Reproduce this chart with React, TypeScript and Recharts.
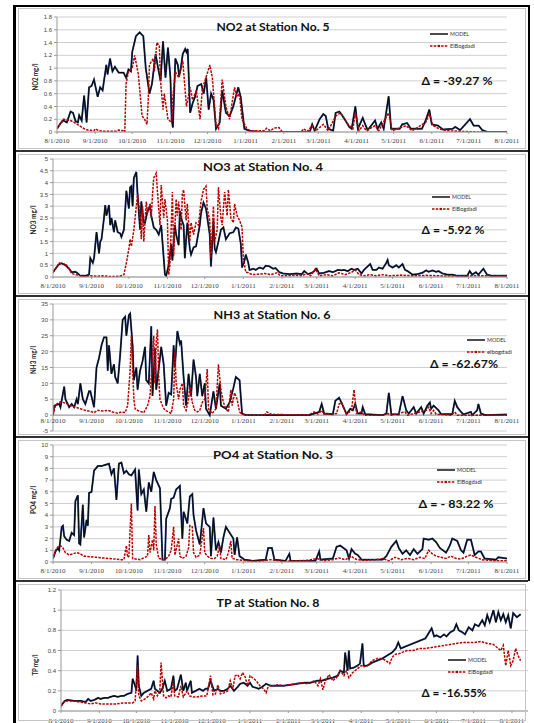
import React from 'react';
import { LineChart, Line, XAxis, YAxis, CartesianGrid, ReferenceLine } from 'recharts';

type Pt = [number, number];

// days counted from 8/1/2010
const monthTicks = [0, 31, 61, 92, 122, 153, 184, 212, 243, 273, 304, 334, 365];
const monthLabels = ['8/1/2010', '9/1/2010', '10/1/2010', '11/1/2010', '12/1/2010', '1/1/2011', '2/1/2011', '3/1/2011', '4/1/2011', '5/1/2011', '6/1/2011', '7/1/2011', '8/1/2011'];

const no2Model: Pt[] = [[0,0.05],[3,0.14],[5,0.18],[8,0.15],[11,0.32],[13,0.3],[15,0.17],[17,0.15],[18,0.26],[20,0.18],[22,0.57],[24,0.15],[26,0.7],[28,0.72],[30,0.82],[33,0.55],[35,0.7],[37,0.65],[40,1.05],[41,0.9],[43,1.15],[45,0.95],[47,1.02],[50,0.93],[54,0.93],[56,0.85],[58,0.98],[60,0.95],[61,1.25],[64,1.5],[67,1.56],[70,1.5],[72,1.0],[75,0.6],[77,0.75],[80,1.22],[82,1.0],[84,0.8],[86,1.42],[88,0.85],[90,1.32],[92,0.85],[93,0.2],[94,0.07],[96,1.15],[98,1.05],[99,0.88],[100,0.95],[102,1.22],[104,1.3],[105,1.25],[106,1.3],[108,0.3],[110,0.45],[112,0.55],[114,0.72],[117,0.75],[119,0.6],[121,0.85],[123,0.35],[125,0.6],[127,0.5],[129,0.05],[132,0.15],[134,0.65],[137,0.3],[140,0.25],[143,0.4],[147,0.7],[149,0.55],[152,0.05],[156,0.02],[164,0],[205,0],[207,0.12],[209,0.02],[213,0.2],[216,0.28],[218,0.25],[220,0.05],[224,0.02],[226,0.3],[229,0.32],[231,0.27],[234,0.18],[237,0.08],[239,0.05],[242,0.4],[244,0.05],[248,0.22],[250,0.12],[252,0.03],[258,0.18],[260,0.05],[263,0.15],[265,0.05],[269,0.56],[271,0.05],[278,0.05],[280,0.12],[284,0.14],[287,0.05],[296,0.05],[299,0.18],[302,0.35],[304,0.12],[309,0.1],[313,0.04],[321,0.05],[323,0.08],[327,0.03],[335,0.2],[338,0.1],[342,0.1],[345,0.03],[349,0],[365,0]];
const no2Obs: Pt[] = [[0,0.05],[5,0.2],[11,0.18],[14,0.15],[18,0.1],[22,0.05],[25,0.03],[30,0.02],[31,0.05],[34,0.02],[38,0.01],[48,0.01],[50,0.03],[54,0.02],[55,0],[56,0.75],[58,0.95],[61,1.0],[63,1.2],[66,0.9],[69,0.25],[71,0.2],[73,0.12],[74,0.5],[75,1.05],[78,1.15],[79,0.95],[81,1.4],[83,1.35],[84,0.8],[86,0.35],[87,0.6],[90,0.2],[93,0.15],[94,0.55],[96,0.95],[97,0.9],[99,0.85],[102,1.12],[105,0.4],[108,0.7],[110,0.5],[113,0.65],[116,0.2],[118,0.7],[120,0.8],[124,1.05],[126,0.85],[129,0.1],[131,0.05],[132,0.25],[134,0.82],[137,0.4],[140,0.2],[144,0.7],[146,0.55],[148,0.6],[150,0.2],[154,0.05],[157,0.02],[168,0.02],[170,0.06],[173,0.02],[176,0.06],[180,0.07],[183,0],[198,0],[200,0.05],[203,0.01],[207,0.1],[210,0.02],[216,0.12],[220,0.02],[226,0.25],[230,0.3],[233,0.2],[237,0.1],[240,0.05],[242,0.3],[245,0.02],[248,0.1],[251,0.02],[258,0.1],[261,0.02],[269,0.3],[272,0.02],[283,0.1],[288,0.02],[299,0.15],[302,0.28],[305,0.1],[310,0.05],[316,0.02],[340,0],[365,0]];

const no3Model: Pt[] = [[0,0.2],[2,0.35],[5,0.55],[7,0.58],[10,0.5],[13,0.35],[15,0.2],[18,0.22],[20,0.15],[22,0.05],[26,0.05],[29,0.1],[30,0.8],[32,0.6],[33,0.8],[35,1.9],[37,1.0],[38,1.5],[39,1.6],[41,2.5],[42,3.05],[43,2.6],[45,3.05],[46,2.2],[47,2.5],[49,1.9],[50,2.4],[52,1.9],[54,1.85],[55,1.7],[57,2.0],[58,2.8],[59,3.65],[61,2.9],[62,3.8],[63,3.85],[64,3.0],[65,4.2],[67,4.45],[68,3.5],[70,2.0],[71,3.2],[73,2.3],[74,2.3],[76,2.8],[78,3.0],[79,2.6],[81,2.1],[83,2.0],[85,1.8],[87,2.2],[89,0.8],[90,0.1],[91,0.05],[93,0.5],[95,1.4],[96,0.7],[98,2.2],[99,1.8],[101,1.35],[102,2.8],[103,2.5],[105,2.2],[106,0.8],[108,2.3],[110,1.2],[111,0.95],[113,1.25],[115,1.3],[118,2.2],[119,2.7],[121,3.15],[123,2.9],[126,1.8],[127,0.45],[129,2.4],[130,1.2],[131,1.05],[133,1.5],[135,2.0],[137,2.1],[139,1.6],[142,1.85],[145,1.9],[147,2.1],[149,2.05],[151,1.4],[152,0.4],[154,0.7],[155,0.95],[157,0.6],[158,0.3],[161,0.35],[163,0.3],[166,0.4],[169,0.35],[171,0.48],[174,0.45],[177,0.35],[179,0.38],[182,0.2],[185,0.15],[190,0.12],[196,0.15],[200,0.12],[202,0.25],[205,0.12],[209,0.2],[212,0.35],[214,0.15],[218,0.18],[222,0.25],[225,0.2],[229,0.3],[232,0.28],[234,0.3],[237,0.25],[240,0.35],[242,0.3],[245,0.35],[248,0.15],[250,0.3],[253,0.45],[255,0.55],[257,0.3],[260,0.3],[262,0.4],[265,0.35],[268,0.6],[269,0.72],[270,0.5],[273,0.4],[276,0.5],[278,0.4],[281,0.55],[283,0.3],[285,0.25],[289,0.1],[293,0.12],[297,0.18],[300,0.28],[302,0.22],[305,0.28],[308,0.22],[310,0.25],[313,0.15],[317,0.1],[321,0.1],[325,0.05],[329,0.06],[333,0.05],[335,0.25],[337,0.1],[340,0.2],[342,0.1],[346,0.35],[349,0.1],[353,0.05],[365,0.05]];
const no3Obs: Pt[] = [[0,0.2],[2,0.35],[5,0.6],[7,0.55],[10,0.55],[13,0.35],[15,0.15],[18,0.1],[20,0.08],[22,0.05],[25,0.02],[30,0.05],[35,0.03],[40,0.05],[45,0.02],[50,0.02],[55,0.05],[57,0.1],[59,0.6],[61,1.2],[62,1.6],[63,1.3],[65,2.0],[67,3.0],[68,3.5],[70,2.6],[71,1.6],[72,3.0],[73,1.5],[75,3.2],[76,2.7],[78,3.1],[79,2.5],[80,3.5],[81,4.2],[83,4.4],[84,3.6],[86,2.2],[87,3.9],[89,2.5],[90,3.3],[92,2.4],[93,0.1],[94,0.5],[96,3.6],[97,0.9],[99,3.3],[100,2.6],[101,3.2],[103,2.0],[104,3.5],[105,3.7],[107,2.4],[108,3.1],[110,1.5],[111,2.3],[113,1.8],[115,2.3],[117,2.2],[119,3.2],[121,3.7],[123,3.85],[124,2.9],[126,2.4],[127,0.8],[129,3.0],[130,1.5],[132,2.0],[133,3.8],[135,2.5],[136,2.2],[138,3.6],[140,2.6],[141,3.7],[143,2.5],[145,2.3],[146,3.1],[148,2.6],[150,2.4],[152,2.1],[153,0.8],[155,0.2],[157,0.18],[160,0.1],[165,0.12],[170,0.15],[175,0.1],[180,0.18],[183,0.05],[188,0.05],[195,0.08],[200,0.05],[204,0.15],[207,0.05],[211,0.35],[214,0.05],[220,0.1],[225,0.05],[230,0.18],[235,0.1],[240,0.2],[243,0.3],[246,0.1],[250,0.05],[255,0.1],[260,0.05],[265,0.1],[270,0.05],[280,0.08],[290,0.05],[300,0.07],[310,0.05],[320,0.04],[340,0.05],[350,0.05],[365,0.03]];

const nh3Model: Pt[] = [[0,0],[1,3],[5,3.5],[6,2.5],[9,9],[10,5],[13,2.5],[15,3.5],[17,2.5],[19,5],[20,3.5],[22,10],[24,5],[26,3.5],[29,7.5],[30,7.5],[33,2.5],[35,15],[37,18],[39,22],[41,24.5],[43,24.5],[44,14],[45,22],[47,13],[49,16],[50,12],[52,10],[54,19],[56,30],[58,31],[59,25],[61,31.5],[62,32],[64,22],[65,11],[67,15],[68,8],[70,14],[72,17],[74,21.5],[75,11],[77,10],[79,28],[80,6],[82,21],[83,8],[86,18],[87,21.5],[89,16],[91,3],[93,7],[95,6.5],[97,22],[98,15],[100,26.5],[102,22.5],[103,23.5],[105,12],[107,3],[109,13],[111,6],[113,17.5],[115,12],[116,6],[118,13],[120,6],[122,10],[123,2],[126,0],[129,7.5],[131,2],[134,10],[135,3],[139,2],[142,4],[145,8.5],[147,12],[150,11],[152,0.5],[155,0],[206,0],[214,1],[216,3.5],[218,0.5],[225,0.3],[227,4.5],[230,5.5],[233,3],[236,0.3],[239,2],[241,1.5],[243,3.5],[245,0.5],[248,0.5],[249,2.5],[251,0.3],[265,0],[268,0.5],[270,7],[272,0.3],[278,0.2],[281,6],[284,1.5],[286,0.5],[290,2.5],[292,0.5],[296,2.5],[298,0.5],[301,3],[303,4],[304,2],[306,3],[310,1.5],[312,0.3],[321,0.3],[323,4.5],[325,2.5],[328,1],[330,0.2],[336,1],[337,0],[341,1.5],[342,3.5],[344,0.5],[348,0],[365,0.2]];
const nh3Obs: Pt[] = [[0,0],[2,3],[3,3.5],[6,4.2],[10,3.8],[14,3],[18,2.5],[22,2],[26,1.5],[30,1.2],[33,0.8],[36,1.5],[40,1.3],[44,1.5],[48,1],[52,0.6],[55,1],[58,0.8],[60,3],[62,14],[63,25],[65,5],[66,2],[68,1.5],[73,0.8],[76,3],[78,6],[79,12],[80,18],[81,25],[82,10],[83,23],[84,27],[85,12],[86,5],[88,3],[90,1.5],[93,1],[95,0.5],[97,5],[98,20],[99,10],[101,5],[102,8],[104,10],[105,3],[107,1.5],[109,5],[110,9],[112,4],[114,1.5],[116,1],[118,1.5],[120,4],[122,5],[124,14.5],[125,2],[128,0.5],[131,2],[133,16],[135,8],[137,4],[139,2],[141,1],[143,8],[144,3],[146,7],[148,5],[150,1],[152,0.3],[155,0],[170,0],[172,1],[175,0.3],[180,0.2],[205,0],[210,1],[213,0.3],[216,1.5],[218,0.3],[228,0.5],[230,3.5],[232,4],[234,2],[236,0.3],[240,1.5],[242,8],[244,0.5],[248,1],[250,0],[265,0],[269,0.5],[272,0],[283,1],[285,0],[300,1.5],[302,2.5],[304,0.5],[306,1.5],[308,0.3],[320,0],[323,1],[325,0],[365,0]];

const po4Model: Pt[] = [[0,0.3],[2,0.9],[4,1.2],[5,1.0],[7,3.0],[8,3.1],[9,2.2],[11,1.9],[13,1.8],[15,2.5],[17,2.3],[18,5.2],[20,5.7],[21,1.6],[22,1.5],[24,4.9],[25,2.1],[27,3.6],[28,3.1],[29,5.9],[31,6.0],[33,7.8],[36,8.2],[39,8.2],[42,8.3],[45,8.4],[47,7.5],[49,8.0],[51,5.3],[53,8.4],[55,8.5],[57,7.6],[59,7.8],[61,7.5],[63,7.4],[66,7.9],[68,4.4],[69,7.9],[71,5.8],[73,6.2],[75,4.3],[77,6.8],[79,6.0],[81,7.7],[83,7.0],[86,6.3],[88,0.2],[90,0.2],[91,3.7],[94,4.6],[95,5.4],[97,5.5],[99,6.2],[102,6.5],[104,2.0],[105,4.3],[108,3.3],[110,5.6],[112,5.8],[113,4.0],[115,2.7],[118,1.5],[119,2.5],[121,4.6],[123,3.3],[126,3.0],[127,0.5],[129,3.8],[131,1.0],[133,1.7],[135,0.8],[137,2.1],[139,3.0],[142,2.5],[145,2.0],[146,0.6],[148,2.1],[150,0.5],[154,0.2],[161,0.1],[171,0.2],[173,1.2],[176,1.2],[178,0.2],[187,0.1],[190,0.7],[191,0.1],[211,0.1],[214,0.9],[215,0.2],[225,0.3],[228,1.3],[231,1.4],[236,1.0],[238,0.3],[240,1.1],[243,0.7],[245,0.6],[248,0.2],[265,0.2],[268,0.5],[272,1.3],[276,1.8],[278,1.2],[281,0.7],[284,1.0],[287,0.6],[290,1.1],[293,0.7],[297,1.1],[298,2.0],[302,1.9],[305,2.0],[308,1.7],[311,1.2],[316,0.8],[319,1.4],[321,2.0],[325,1.8],[328,1.0],[330,0.8],[333,1.9],[336,1.9],[339,0.6],[342,0.9],[344,0.9],[347,0.3],[356,0.2],[358,0.4],[365,0.3]];
const po4Obs: Pt[] = [[0,0.3],[2,1.0],[4,1.3],[6,1.4],[8,1.2],[10,0.8],[13,0.6],[16,0.7],[19,0.8],[22,0.7],[25,0.5],[30,0.45],[35,0.4],[40,0.35],[45,0.3],[50,0.25],[55,0.2],[57,0.2],[59,1.4],[60,0.4],[61,0.5],[63,5.0],[64,0.3],[70,0.2],[74,0.4],[76,0.5],[77,2.3],[78,0.8],[80,1.9],[81,1.0],[82,4.8],[83,1.5],[85,0.3],[90,0.2],[93,0.5],[95,1.0],[97,3.0],[98,0.6],[101,2.0],[102,0.5],[104,0.3],[107,0.5],[109,1.2],[110,3.1],[112,3.0],[113,0.8],[115,0.4],[118,0.6],[121,2.9],[122,0.8],[124,0.5],[127,0.3],[130,0.3],[132,0.5],[134,1.4],[135,0.3],[139,0.2],[141,0.8],[143,1.8],[144,0.3],[148,0.2],[155,0.1],[165,0.05],[175,0.2],[185,0.05],[195,0.1],[205,0.15],[212,0.3],[218,0.1],[225,0.2],[230,0.35],[235,0.2],[240,0.5],[242,0.3],[245,0.2],[250,0.15],[260,0.2],[265,0.3],[270,0.1],[275,0.4],[280,0.2],[285,0.3],[290,0.2],[295,0.4],[299,0.3],[302,1.0],[305,0.7],[308,0.5],[312,0.4],[316,0.3],[320,0.5],[324,0.3],[328,0.25],[333,0.5],[336,0.6],[340,0.4],[345,0.2],[350,0.15],[355,0.1],[365,0.1]];

const tpModel: Pt[] = [[0,0.05],[3,0.1],[5,0.11],[11,0.1],[16,0.1],[20,0.09],[22,0.12],[24,0.1],[27,0.11],[30,0.13],[32,0.12],[35,0.13],[38,0.13],[40,0.14],[43,0.15],[46,0.14],[49,0.15],[51,0.15],[54,0.17],[57,0.18],[58,0.32],[60,0.25],[61,0.2],[62,0.55],[63,0.25],[65,0.15],[67,0.18],[70,0.2],[73,0.22],[75,0.3],[76,0.22],[78,0.2],[80,0.18],[82,0.22],[84,0.3],[86,0.2],[89,0.22],[91,0.35],[92,0.2],[94,0.22],[97,0.36],[99,0.2],[101,0.28],[102,0.2],[105,0.3],[106,0.18],[109,0.2],[112,0.22],[115,0.2],[117,0.22],[119,0.22],[121,0.3],[124,0.2],[127,0.22],[129,0.2],[132,0.2],[135,0.22],[137,0.25],[140,0.2],[143,0.24],[145,0.27],[148,0.28],[151,0.25],[153,0.28],[155,0.24],[158,0.23],[160,0.22],[163,0.24],[166,0.27],[170,0.25],[175,0.25],[180,0.25],[186,0.26],[191,0.27],[197,0.28],[202,0.28],[207,0.3],[211,0.3],[216,0.32],[220,0.33],[224,0.35],[226,0.4],[229,0.38],[230,0.58],[232,0.4],[233,0.6],[234,0.42],[237,0.43],[240,0.45],[242,0.47],[244,0.67],[245,0.45],[248,0.45],[252,0.48],[256,0.5],[260,0.52],[264,0.55],[268,0.58],[271,0.62],[273,0.68],[275,0.62],[279,0.64],[283,0.66],[287,0.68],[291,0.7],[295,0.72],[298,0.78],[300,0.82],[302,0.74],[304,0.75],[307,0.73],[310,0.76],[312,0.74],[315,0.78],[318,0.8],[320,0.86],[322,0.8],[325,0.78],[327,0.76],[330,0.83],[333,0.8],[335,0.86],[338,0.84],[341,0.9],[343,0.85],[345,0.95],[347,0.88],[350,1.0],[352,0.88],[354,0.98],[356,0.9],[358,0.96],[360,0.88],[362,0.95],[364,0.82],[366,0.97],[369,0.93],[372,0.96]];
const tpObs: Pt[] = [[0,0.05],[3,0.1],[6,0.1],[10,0.1],[15,0.09],[20,0.08],[24,0.07],[28,0.08],[32,0.07],[36,0.07],[40,0.07],[45,0.07],[50,0.08],[55,0.08],[58,0.08],[60,0.1],[62,0.45],[63,0.15],[65,0.1],[68,0.12],[71,0.15],[73,0.18],[75,0.12],[76,0.2],[78,0.15],[80,0.2],[81,0.48],[83,0.15],[85,0.13],[87,0.15],[89,0.14],[91,0.3],[92,0.15],[95,0.14],[97,0.25],[99,0.14],[102,0.2],[104,0.15],[107,0.14],[110,0.14],[115,0.15],[118,0.15],[121,0.35],[123,0.16],[125,0.17],[127,0.26],[129,0.17],[132,0.18],[135,0.2],[137,0.3],[139,0.22],[141,0.35],[143,0.36],[145,0.32],[147,0.38],[149,0.34],[151,0.25],[153,0.35],[155,0.33],[158,0.3],[161,0.25],[164,0.22],[166,0.18],[168,0.25],[172,0.25],[176,0.26],[180,0.25],[185,0.26],[190,0.27],[195,0.28],[200,0.27],[205,0.3],[208,0.25],[210,0.32],[212,0.21],[214,0.3],[217,0.36],[220,0.3],[223,0.33],[226,0.4],[229,0.35],[231,0.4],[233,0.33],[236,0.38],[240,0.42],[243,0.45],[245,0.44],[248,0.45],[252,0.5],[256,0.52],[260,0.52],[263,0.5],[266,0.47],[268,0.53],[270,0.56],[274,0.57],[280,0.6],[285,0.6],[290,0.62],[295,0.62],[300,0.63],[305,0.64],[310,0.65],[315,0.66],[320,0.67],[325,0.68],[330,0.68],[335,0.68],[340,0.69],[345,0.67],[350,0.66],[353,0.63],[356,0.6],[358,0.65],[360,0.45],[362,0.6],[364,0.45],[366,0.5],[368,0.62],[370,0.55],[372,0.5]];

const no2Ticks = [0, 0.2, 0.4, 0.6, 0.8, 1, 1.2, 1.4, 1.6, 1.8];
const no3Ticks = [0, 0.5, 1, 1.5, 2, 2.5, 3, 3.5, 4, 4.5, 5];
const nh3Ticks = [-5, 0, 5, 10, 15, 20, 25, 30, 35];
const po4Ticks = [0, 1, 2, 3, 4, 5, 6, 7, 8, 9, 10];
const tpTicks = [0, 0.2, 0.4, 0.6, 0.8, 1, 1.2];

const rows = (pts: Pt[]) => pts.map(([d, v]) => ({ d, v }));

const panels = [
  { top: 7, height: 144, plotTop: 17, plotBottom: 132, left: 57, right: 507, xMax: 365, ticks: no2Ticks, model: no2Model, obs: no2Obs, tickDy: 7,
    title: 'NO2 at Station No. 5', tx: 273, ty: 31, tl: 113, delta: 'Δ = -39.27 %', dx: 457, dy: 85, dl: 71,
    yLabel: 'NO2 mg/l', yx: 35, yy: 77, yl: 27, lx: 430, ly: 34, obsName: 'ElBogdadi' },
  { top: 153, height: 143, plotTop: 159, plotBottom: 277, left: 53, right: 507, xMax: 365, ticks: no3Ticks, model: no3Model, obs: no3Obs, tickDy: 7,
    title: 'NO3 at Station No. 4', tx: 263, ty: 171, tl: 120, delta: 'Δ = -5.92 %', dx: 453, dy: 234, dl: 63,
    yLabel: 'NO3 mg/l', yx: 33, yy: 220, yl: 29, lx: 432, ly: 197, obsName: 'ElBogdadi' },
  { top: 298, height: 139, plotTop: 304, plotBottom: 431, left: 53, right: 507, xMax: 365, ticks: nh3Ticks, model: nh3Model, obs: nh3Obs, tickDy: -12, zero: true,
    title: 'NH3 at Station No. 6', tx: 272, ty: 319, tl: 117, delta: 'Δ = -62.67%', dx: 464, dy: 368, dl: 68,
    yLabel: 'NH3 mg/l', yx: 33, yy: 360, yl: 28, lx: 467, ly: 340, obsName: 'elbogdadi' },
  { top: 439, height: 142, plotTop: 445, plotBottom: 562, left: 53, right: 507, xMax: 365, ticks: po4Ticks, model: po4Model, obs: po4Obs, tickDy: 7,
    title: 'PO4 at Station No. 3', tx: 273, ty: 459, tl: 120, delta: 'Δ = - 83.22 %', dx: 456, dy: 508, dl: 75,
    yLabel: 'PO4 mg/l', yx: 33, yy: 500, yl: 28, lx: 437, ly: 470, obsName: 'ElBogdadi' },
  { top: 583, height: 140, plotTop: 590, plotBottom: 711, left: 61, right: 528, xMax: 378, ticks: tpTicks, model: tpModel, obs: tpObs, tickDy: 8,
    title: 'TP at Station No. 8', tx: 268, ty: 607, tl: 103, delta: 'Δ = -16.55%', dx: 454, dy: 697, dl: 65,
    yLabel: 'TP mg/l', yx: 35, yy: 665, yl: 21, lx: 448, ly: 660, obsName: 'ElBogdadi' },
];

const DateTick = (props: any) => {
  const { x, y, payload, shift } = props;
  const i = monthTicks.indexOf(payload.value);
  const label = i >= 0 ? monthLabels[i] : '';
  return (
    <text x={x} y={y} dy={shift} textAnchor="middle" fontSize={5.5} fill="#444"
      textLength={label.length * 3.1} lengthAdjust="spacingAndGlyphs">{label}</text>
  );
};

const Panel = ({ p }: { p: any }) => {
  const yAxisW = 30;
  const xAxisH = 12;
  const margin = {
    top: p.plotTop - p.top,
    right: 534 - p.right,
    bottom: p.top + p.height - p.plotBottom - xAxisH,
    left: p.left - yAxisW,
  };
  const yDomain = [p.ticks[0], p.ticks[p.ticks.length - 1]];
  return (
    <div style={{ position: 'absolute', left: 0, top: p.top, width: 534, height: p.height }}>
      <LineChart width={534} height={p.height} margin={margin}>
        <CartesianGrid vertical={false} stroke="#cfcfcf" />
        <XAxis type="number" dataKey="d" domain={[0, p.xMax]} ticks={monthTicks} interval={0} height={xAxisH}
          allowDataOverflow axisLine={!p.zero} tickLine={!p.zero} tickSize={2} stroke="#999"
          tick={(tp: any) => <DateTick {...tp} shift={p.tickDy} />} />
        <YAxis type="number" domain={yDomain} ticks={p.ticks} interval={0} width={yAxisW} allowDataOverflow
          tickSize={3} tickMargin={2} stroke="#999" tick={{ fontSize: 6, fill: '#444', fontFamily: 'Liberation Sans' }} />
        {p.zero && <ReferenceLine y={0} stroke="#999" />}
        <Line data={rows(p.model)} dataKey="v" type="linear" stroke="#2a4585" strokeWidth={1.9} dot={false} isAnimationActive={false} />
        <Line data={rows(p.model)} dataKey="v" type="linear" stroke="#0a0a0a" strokeWidth={1.1} dot={false} isAnimationActive={false} />
        <Line data={rows(p.obs)} dataKey="v" type="linear" stroke="#b80000" strokeWidth={1.5} strokeDasharray="2.5 1.2" dot={false} isAnimationActive={false} />
      </LineChart>
    </div>
  );
};

const Overlay = () => (
  <svg width={534} height={723} style={{ position: 'absolute', left: 0, top: 0, pointerEvents: 'none' }}>
    <rect x={13} y={5} width={3} height={718} fill="#000" />
    <rect x={13} y={5} width={517} height={2} fill="#000" />
    <rect x={528} y={5} width={2} height={576} fill="#000" />
    {[150, 295, 436, 580].map((y) => (
      <rect key={y} x={16} y={y} width={512} height={2} fill="#333" />
    ))}
    {panels.map((p, i) => (
      <g key={i} fontFamily="Lato, 'Liberation Sans', sans-serif">
        <rect x={18.5} y={p.top + 1.5} width={507} height={p.height - 4} fill="none" stroke="#c4c4c4" />
        <text x={p.tx} y={p.ty} textAnchor="middle" fontSize={12} fontWeight="bold" fill="#111"
          textLength={p.tl} lengthAdjust="spacingAndGlyphs">{p.title}</text>
        <text x={p.dx} y={p.dy} textAnchor="middle" fontSize={12} fontWeight="bold" fill="#111"
          textLength={p.dl} lengthAdjust="spacingAndGlyphs">{p.delta}</text>
        <text transform={`translate(${p.yx},${p.yy}) rotate(-90)`} textAnchor="middle" dy="0.35em" fontSize={8}
          fontWeight="bold" fill="#222" textLength={p.yl} lengthAdjust="spacingAndGlyphs">{p.yLabel}</text>
        <line x1={p.lx} x2={p.lx + 18} y1={p.ly} y2={p.ly} stroke="#111" strokeWidth={1.5} />
        <text x={p.lx + 20} y={p.ly + 2} fontSize={5} fill="#333" textLength={19} lengthAdjust="spacingAndGlyphs">MODEL</text>
        <line x1={p.lx} x2={p.lx + 18} y1={p.ly + 12} y2={p.ly + 12} stroke="#b80000" strokeWidth={1.5} strokeDasharray="2.5 1.2" />
        <circle cx={p.lx + 9} cy={p.ly + 12} r={1.2} fill="#b80000" />
        <text x={p.lx + 20} y={p.ly + 14} fontSize={5} fill="#333" textLength={25} lengthAdjust="spacingAndGlyphs">{p.obsName}</text>
      </g>
    ))}
  </svg>
);

export default function App() {
  return (
    <div style={{ position: 'absolute', left: 0, top: 0, width: 534, height: 723, background: '#fff', overflow: 'hidden' }}>
      {panels.map((p, i) => <Panel key={i} p={p} />)}
      <Overlay />
    </div>
  );
}
